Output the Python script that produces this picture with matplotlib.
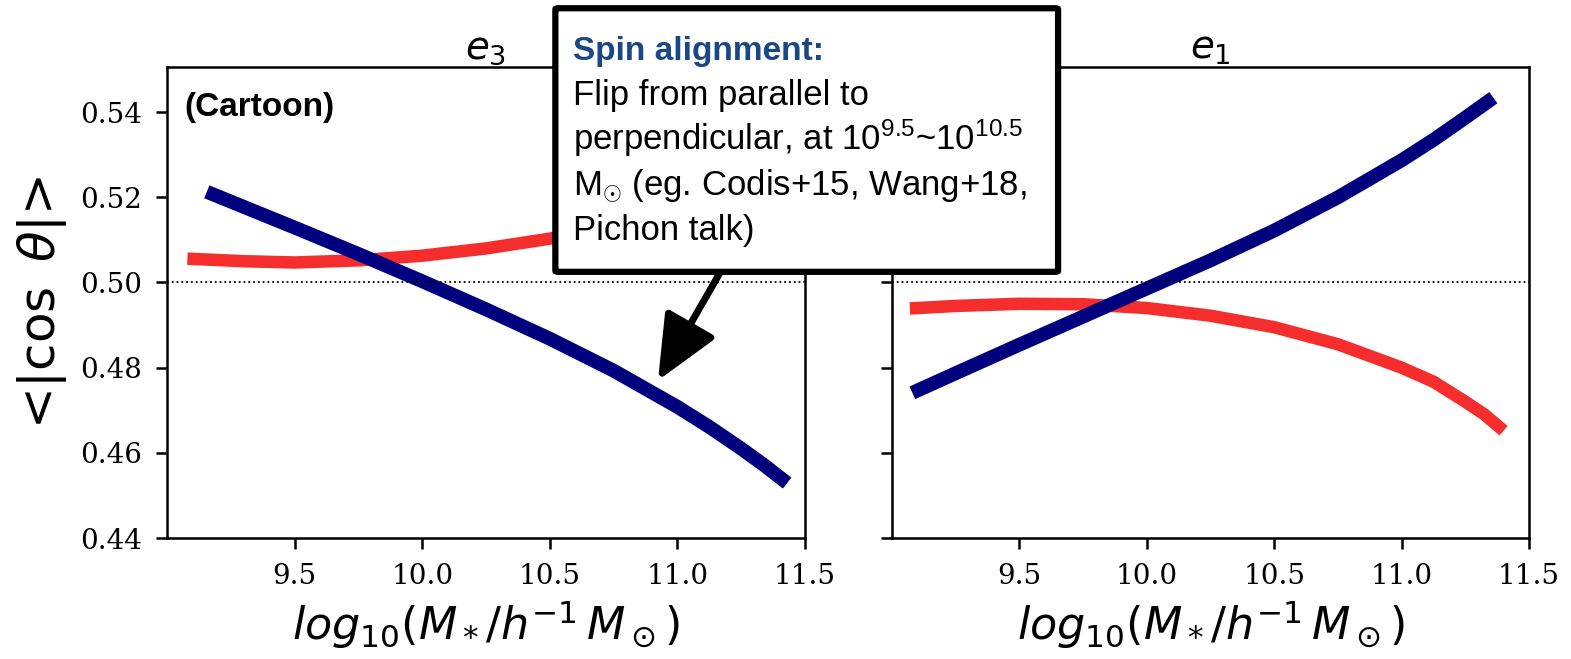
import matplotlib
matplotlib.use('Agg')
import matplotlib.pyplot as plt
from matplotlib.patches import FancyBboxPatch

plt.rcParams['mathtext.fontset'] = 'dejavusans'
# custom math set only used for the annotation box (Arial-like)
plt.rcParams['mathtext.rm'] = 'Liberation Sans'
plt.rcParams['mathtext.it'] = 'Liberation Sans:italic'
plt.rcParams['mathtext.bf'] = 'Liberation Sans:bold'

# e3 panel (left)
mass_e3_red = [9.08, 9.30, 9.50, 9.75, 10.00, 10.25, 10.50, 10.75, 11.00, 11.25, 11.42]
cos_e3_red = [0.5056, 0.5050, 0.5047, 0.5052, 0.5063, 0.5080, 0.5103, 0.5130, 0.5160, 0.5195, 0.5225]
mass_e3_blue = [9.156, 9.25, 9.50, 9.75, 10.00, 10.25, 10.50, 10.75, 11.00, 11.125, 11.25, 11.34, 11.43]
cos_e3_blue = [0.5213, 0.5190, 0.5129, 0.5067, 0.5003, 0.4937, 0.4868, 0.4793, 0.4708, 0.4661, 0.4610, 0.4571, 0.4529]

# e1 panel (right)
mass_e1_red = [9.07, 9.25, 9.50, 9.75, 10.00, 10.25, 10.50, 10.75, 11.00, 11.125, 11.25, 11.325, 11.40]
cos_e1_red = [0.4939, 0.4945, 0.4950, 0.4949, 0.4940, 0.4922, 0.4895, 0.4855, 0.4800, 0.4767, 0.4720, 0.4690, 0.4652]
mass_e1_blue = [9.08, 9.25, 9.50, 9.75, 10.00, 10.25, 10.50, 10.75, 11.00, 11.125, 11.25, 11.36]
cos_e1_blue = [0.4741, 0.4787, 0.4854, 0.4920, 0.4986, 0.5052, 0.5122, 0.5200, 0.5287, 0.5335, 0.5387, 0.5434]

yticks = [0.44, 0.46, 0.48, 0.50, 0.52, 0.54]
xticks = [9.5, 10.0, 10.5, 11.0, 11.5]

RED = '#f62d2d'
BLUE = '#00007f'

fig = plt.figure(figsize=(15.71, 6.59), dpi=100)
ax1 = fig.add_axes([0.1063, 0.1836, 0.4061, 0.7147])
ax2 = fig.add_axes([0.5678, 0.1836, 0.4055, 0.7147])

panels = [
    (ax1, r'$e_3$', mass_e3_red, cos_e3_red, mass_e3_blue, cos_e3_blue),
    (ax2, r'$e_1$', mass_e1_red, cos_e1_red, mass_e1_blue, cos_e1_blue),
]
xlabel = r'$log_{10}(M_*/h^{-1}\,M_\odot)$'

for ax, title, xr, yr, xb, yb in panels:
    ax.plot(xr, yr, color=RED, lw=9, solid_capstyle='butt', solid_joinstyle='round')
    ax.plot(xb, yb, color=BLUE, lw=10, solid_capstyle='butt', solid_joinstyle='round')
    ax.axhline(0.5, color='black', ls=':', lw=1.3)
    ax.set_xlim(9.0, 11.5)
    ax.set_ylim(0.44, 0.5506)
    ax.set_xticks(xticks)
    ax.set_yticks(yticks)
    ax.tick_params(direction='out', length=8, width=1.8, labelsize=20,
                   labelfontfamily='DejaVu Serif', pad=10)
    for sp in ax.spines.values():
        sp.set_linewidth(1.8)
    ax.set_title(title, fontsize=28, pad=6)
    ax.set_xlabel(xlabel, fontsize=32, labelpad=6)

ax1.set_ylabel(r'<$|\cos\ \theta|$>', fontsize=36, labelpad=8)
ax2.tick_params(axis='y', labelleft=False)

ax1.text(9.07, 0.541, '(Cartoon)', fontsize=24, fontweight='bold',
         family='Liberation Sans', va='center', ha='left')

# arrow from the note box down to the e3 curve
ax1.annotate('', xy=(10.924, 0.4770), xycoords='data',
             xytext=(0.4585, 0.5870), textcoords='figure fraction',
             arrowprops=dict(arrowstyle='-|>,head_length=1.8,head_width=0.8',
                             mutation_scale=22, lw=5, color='black',
                             shrinkA=0, shrinkB=0),
             annotation_clip=False)

box = FancyBboxPatch((0.3535, 0.5875), 0.320, 0.400,
                     boxstyle='round,pad=0,rounding_size=0.002',
                     transform=fig.transFigure, facecolor='white',
                     edgecolor='black', lw=4.5, zorder=5)
fig.add_artist(box)

fig.text(573 / 1571, 1 - 60 / 659, 'Spin alignment:', fontsize=24,
         fontweight='bold', color='#1a4785', family='Liberation Sans',
         ha='left', va='baseline', zorder=6)
note_lines = [
    'Flip from parallel to',
    r'perpendicular, at 10$^{9.5}$~10$^{10.5}$',
    r'M$_{\odot}$ (eg. Codis+15, Wang+18,',
    'Pichon talk)',
]
for i, line in enumerate(note_lines):
    fig.text(573 / 1571, 1 - (105 + 45 * i) / 659, line, fontsize=25,
             family='Liberation Sans', math_fontfamily='custom',
             ha='left', va='baseline', zorder=6)

fig.savefig('out.png', dpi=100)
